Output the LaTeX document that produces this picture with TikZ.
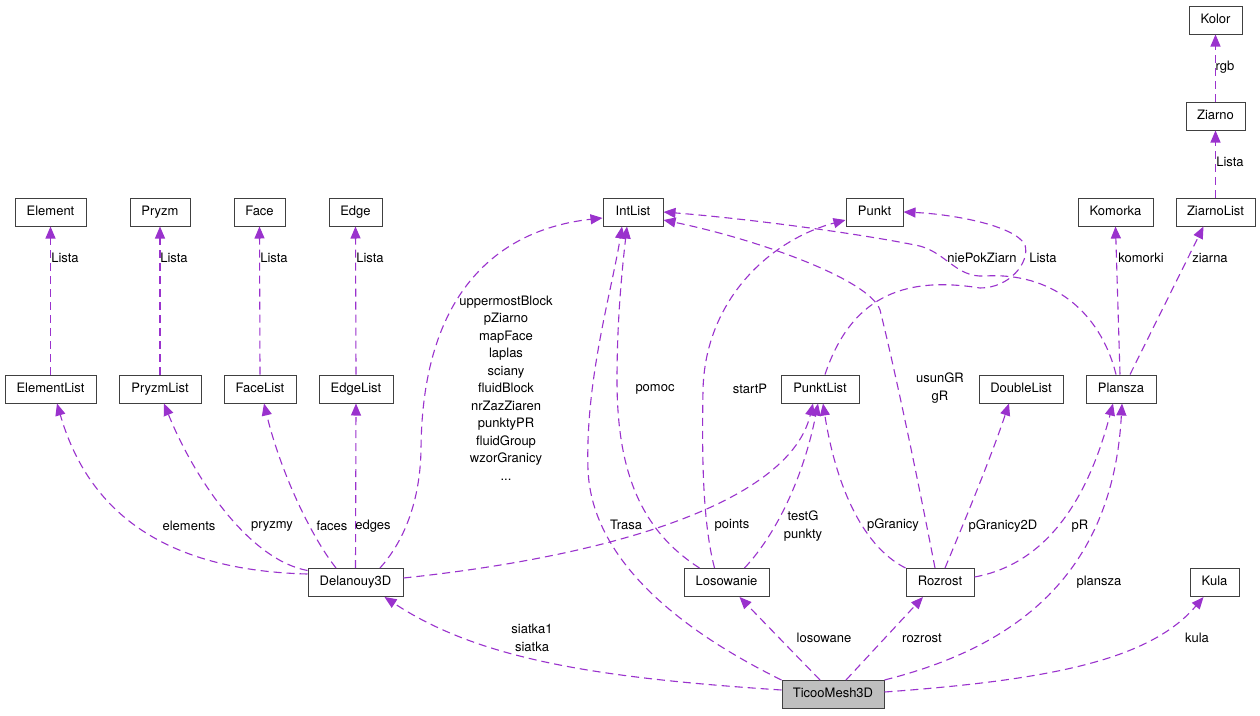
\documentclass[tikz,border=0pt]{standalone}
\usepackage{fontspec}
\setmainfont{TeX Gyre Heros}
\usetikzlibrary{arrows.meta}
\definecolor{edgec}{RGB}{154,50,205}
\definecolor{boxc}{RGB}{64,64,64}
\definecolor{rootc}{RGB}{191,191,191}
\begin{document}
\begin{tikzpicture}[x=1pt,y=-1pt,font=\fontsize{13}{17.5}\selectfont,
  cls/.style={draw=boxc,line width=1pt,fill=white,minimum height=28pt,inner xsep=0pt,inner ysep=0pt,text height=9.5pt,text depth=2.7pt,minimum width=#1},
  dep/.style={draw=edgec,line width=1.1pt,dash pattern=on 8pt off 5pt,-{Triangle[length=12pt,width=10pt]}},
  lbl/.style={inner sep=0pt,align=center}]
\fill[white] (0,0) rectangle (1260,715);
\useasboundingbox (0,0) rectangle (1260,715);
% nodes
\node[cls=71pt] (element) at (50.5,212) {Element};
\node[cls=60pt] (pryzm) at (160,212) {Pryzm};
\node[cls=51pt] (face) at (259.5,212) {Face};
\node[cls=53pt] (edge) at (355.5,212) {Edge};
\node[cls=91pt] (elist) at (50.5,389) {ElementList};
\node[cls=82pt] (plist) at (160,389) {PryzmList};
\node[cls=72pt] (flist) at (260,389) {FaceList};
\node[cls=74pt] (edlist) at (356,389) {EdgeList};
\node[cls=60pt] (intlist) at (633,212) {IntList};
\node[cls=57pt] (punkt) at (874.5,212) {Punkt};
\node[cls=75pt] (kom) at (1115.5,212) {Komorka};
\node[cls=79pt] (zlist) at (1215.5,212) {ZiarnoList};
\node[cls=59pt] (ziarno) at (1215.5,116) {Ziarno};
\node[cls=53pt] (kolor) at (1215.5,20) {Kolor};
\node[cls=78pt] (pklist) at (820,389) {PunktList};
\node[cls=84pt] (dlist) at (1021,389) {DoubleList};
\node[cls=70pt] (plansza) at (1121,389) {Plansza};
\node[cls=95pt] (del) at (355.5,582.5) {Delanouy3D};
\node[cls=85pt] (los) at (726.5,582.5) {Losowanie};
\node[cls=68pt] (roz) at (940,582.5) {Rozrost};
\node[cls=49pt] (kula) at (1214.5,582.5) {Kula};
\node[cls=102pt,fill=rootc] (ticoo) at (833,694.5) {TicooMesh3D};
% edges
\draw[dep] (elist.north) -- (element.south);
\draw[dep] (plist.north) -- (pryzm.south);
\draw[dep] (flist.north) -- (face.south);
\draw[dep] (edlist.north) -- (edge.south);
\draw[dep] ([yshift=8.5pt]del.west) .. controls (150,570) and (85,500) .. ([xshift=6.5pt]elist.south);
\draw[dep] ([yshift=12pt]del.west) .. controls (250,560) and (195,480) .. ([xshift=4pt]plist.south);
\draw[dep] ([xshift=-19.5pt]del.north) .. controls (310,535) and (280,470) .. ([xshift=4pt]flist.south);
\draw[dep] (del.north) -- (edlist.south);
\draw[dep] ([xshift=24.5pt]del.north) .. controls (405,540) and (420,500) .. (421,450) .. controls (422,280) and (510,228) .. ([yshift=-6pt]intlist.west);
\draw[dep] ([yshift=4.5pt]del.east) .. controls (620,555) and (790,500) .. ([xshift=-7pt]pklist.south);
\draw[dep] (ticoo.north west) .. controls (690,635) and (592,565) .. (588,470) .. controls (585,380) and (612,290) .. ([xshift=-11pt]intlist.south);
\draw[dep] ([xshift=-27pt]los.north) .. controls (640,530) and (617,470) .. (617,380) .. controls (617,320) and (622,270) .. ([xshift=-6pt]intlist.south);
\draw[dep] ([xshift=-12pt]los.north) .. controls (702,520) and (702,450) .. (703,390) .. controls (705,300) and (770,240) .. ([yshift=-8pt]punkt.west);
\draw[dep] ([xshift=18pt]los.north) .. controls (780,530) and (805,470) .. ([xshift=-2pt]pklist.south);
\draw[dep] (roz.north west) .. controls (860,545) and (835,480) .. ([xshift=3pt]pklist.south);
\draw[dep] ([xshift=-5pt]roz.north) .. controls (918,480) and (895,370) .. (880,310) .. controls (870,280) and (760,240) .. ([yshift=-8pt]intlist.east);
\draw[dep] ([xshift=5pt]roz.north) .. controls (965,520) and (990,460) .. ([xshift=-12pt]dlist.south);
\draw[dep] ([yshift=5.5pt]roz.east) .. controls (1040,565) and (1085,510) .. ([xshift=-8pt]plansza.south);
\draw[dep] (ticoo.north east) .. controls (995,652) and (1112,590) .. ([xshift=1pt]plansza.south);
\draw[dep] ([xshift=-5pt]plansza.north) .. controls (1100,310) and (1050,272) .. (985,276) .. controls (955,278) and (945,250) .. (915,245) .. controls (850,232) and (740,218) .. (intlist.east);
\draw[dep] ([xshift=5pt]pklist.north) .. controls (850,300) and (900,275) .. (980,288) .. controls (1010,288) and (1030,262) .. (1025,245) .. controls (1015,225) and (950,214) .. (punkt.east);
\draw[dep] ([xshift=-1pt]plansza.north) -- (kom.south);
\draw[dep] ([xshift=9pt]plansza.north) -- ([xshift=-12pt]zlist.south);
\draw[dep] (zlist.north) -- (ziarno.south);
\draw[dep] (ziarno.north) -- (kolor.south);
\draw[dep] ([yshift=4.5pt]ticoo.west) .. controls (600,678) and (480,660) .. ([xshift=29pt]del.south);
\draw[dep] ([xshift=-13pt]ticoo.north) -- ([xshift=13pt]los.south);
\draw[dep] ([xshift=13pt]ticoo.north) -- ([xshift=-17pt]roz.south);
\draw[dep] ([yshift=2.5pt]ticoo.east) .. controls (1050,680) and (1150,660) .. ([xshift=-11pt]kula.south);
% labels
\node[lbl] (l1) at (65,258) {Lista};
\node[lbl] (l2) at (174,258) {Lista};
\node[lbl] (l3) at (274,258) {Lista};
\node[lbl] (l4) at (370,258) {Lista};
\node[lbl] (l5) at (189,526) {elements};
\node[lbl] (l6) at (272,526) {pryzmy};
\node[lbl] (l7) at (332,526) {faces};
\node[lbl] (l8) at (373,526) {edges};
\node[lbl] (l9) at (506,388) {uppermostBlock\\pZiarno\\mapFace\\laplas\\sciany\\fluidBlock\\nrZazZiaren\\punktyPR\\fluidGroup\\wzorGranicy\\...};
\node[lbl] (l10) at (732,525) {points};
\node[lbl] (l11) at (626,525) {Trasa};
\node[lbl] (l12) at (655,389) {pomoc};
\node[lbl] (l13) at (750,389) {startP};
\node[lbl] (l14) at (803,526) {testG\\punkty};
\node[lbl] (l15) at (893,525) {pGranicy};
\node[lbl] (l16) at (940,388) {usunGR\\gR};
\node[lbl] (l17) at (1003,526) {pGranicy2D};
\node[lbl] (l18) at (1080,526) {pR};
\node[lbl] (l19) at (1099,582) {plansza};
\node[lbl] (l20) at (982,258) {niePokZiarn};
\node[lbl] (l21) at (1043,258) {Lista};
\node[lbl] (l22) at (1141,258) {komorki};
\node[lbl] (l23) at (1210,258) {ziarna};
\node[lbl] (l24) at (1230,162) {Lista};
\node[lbl] (l25) at (1225,67) {rgb};
\node[lbl] (l26) at (532,638) {siatka1\\siatka};
\node[lbl] (l27) at (824,638) {losowane};
\node[lbl] (l28) at (922,638) {rozrost};
\node[lbl] (l29) at (1197,638) {kula};
\end{tikzpicture}
\end{document}
